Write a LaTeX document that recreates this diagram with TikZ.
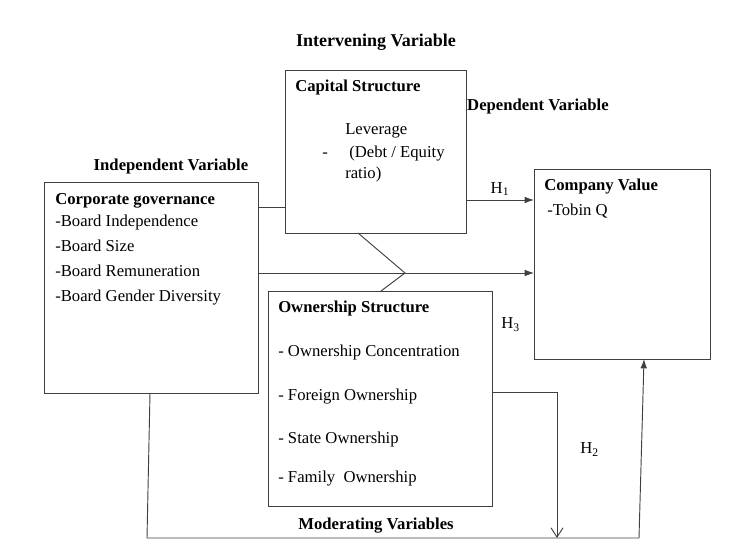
\documentclass[tikz,border=0pt]{standalone}
\usepackage{fontspec}
\setmainfont{Liberation Serif}[Extension=.ttf, UprightFont=LiberationSerif-Regular, BoldFont=LiberationSerif-Bold]
\usetikzlibrary{positioning,arrows.meta}

\tikzset{
  box/.style={draw=black!75, line width=0.7pt, inner sep=0pt, outer sep=0pt, anchor=north west},
  head/.style={font=\fontsize{12.5}{15}\selectfont\bfseries, inner sep=0pt, text height=8.5pt, text depth=2.5pt},
  item/.style={anchor=west, inner sep=0pt, text height=8.5pt, text depth=2.5pt},
  link/.style={draw=black!75, line width=0.7pt},
}

\begin{document}
\begin{tikzpicture}[x=0.75pt, y=-0.75pt, font=\fontsize{12.5}{15}\selectfont]
                \useasboundingbox (0,0) rectangle (736,545);

                % boxes
                \node[box, minimum width=160.5pt, minimum height=158.25pt] (corp) at (44,182) {};
                \node[box, minimum width=135.75pt, minimum height=122.25pt] (cap) at (285,70) {};
                \node[box, minimum width=132pt, minimum height=142.5pt] (val) at (534,169) {};
                \node[box, minimum width=168pt, minimum height=161.25pt] (own) at (268,291) {};

                % headings over the boxes
                \node[head, font=\fontsize{13.5}{16}\selectfont\bfseries] (intv) at (376,43) {Intervening Variable};
                \node[head] (depv) at (538,107) {Dependent Variable};
                \node[head] (indv) at (171,167) {Independent Variable};
                \node[head] (modv) at (376,525) {Moderating Variables};

                % box contents
                \node[head, anchor=west] (corp-t) at (55,201) {Corporate governance};
                \foreach \t [count=\i] in {Board Independence, Board Size, Board Remuneration, Board Gender Diversity}{
                    \node[item] (corp-\i) at (55,198+25*\i) {-\t};
                }
                \node[head, anchor=west] (cap-t) at (295,88) {Capital Structure};
                \node[item] (cap-1) at (345,131) {Leverage};
                \node[item] (cap-2) at (322,154) {-};
                \node[item] (cap-3) at (349,154) {(Debt / Equity};
                \node[item] (cap-4) at (345,175) {ratio)};
                \node[head, anchor=west] (val-t) at (544,187) {Company Value};
                \node[item] (val-1) at (547,212) {-Tobin Q};
                \node[head, anchor=west] (own-t) at (278,309) {Ownership Structure};
                \foreach \t/\y [count=\i] in {Ownership Concentration/353, Foreign Ownership/397, State Ownership/440, Family~~Ownership/478}{
                    \node[item] (own-\i) at (278,\y) {- \t};
                }

                % hypothesis labels
                \node[item] (h3) at (501,325) {H\textsubscript{3}};
                \node[item] (h2) at (580,450) {H\textsubscript{2}};

                % connectors
                \coordinate (ya) at (0,207);
                \coordinate (yb) at (0,200);
                \coordinate (yc) at (0,273);
                \coordinate (yd) at (0,392);
                \coordinate (fork) at (405,273);
                \coordinate (c1) at (358,0);
                \coordinate (c2) at (381,0);
                \coordinate (bx) at (150,0);
                \coordinate (ux) at (644,0);
                \coordinate (turn) at (557,392);
                \coordinate (drop) at (557,538);
                \coordinate (bl) at (147,538);
                \coordinate (br) at (639,538);

                \draw[link] (corp.east |- ya) -- (cap.west |- ya);
                \draw[link, -{Latex[length=7pt,width=5pt]}] (cap.east |- yb) -- (val.west |- yb)
                    node[midway, above=3pt, inner sep=0pt] (h1) {H\textsubscript{1}};
                \draw[link, -{Latex[length=7pt,width=5pt]}] (corp.east |- yc) -- (val.west |- yc);
                \draw[link] (cap.south -| c1) -- (fork) -- (own.north -| c2);
                \draw[link, -{Straight Barb[length=7pt,width=9pt]}] (own.east |- yd) -- (turn) -- (drop);
                \draw[link, -{Latex[length=7pt,width=5pt]}] (corp.south -| bx) -- (bl) -- (br) -- (val.south -| ux);
            \end{tikzpicture}
\end{document}
